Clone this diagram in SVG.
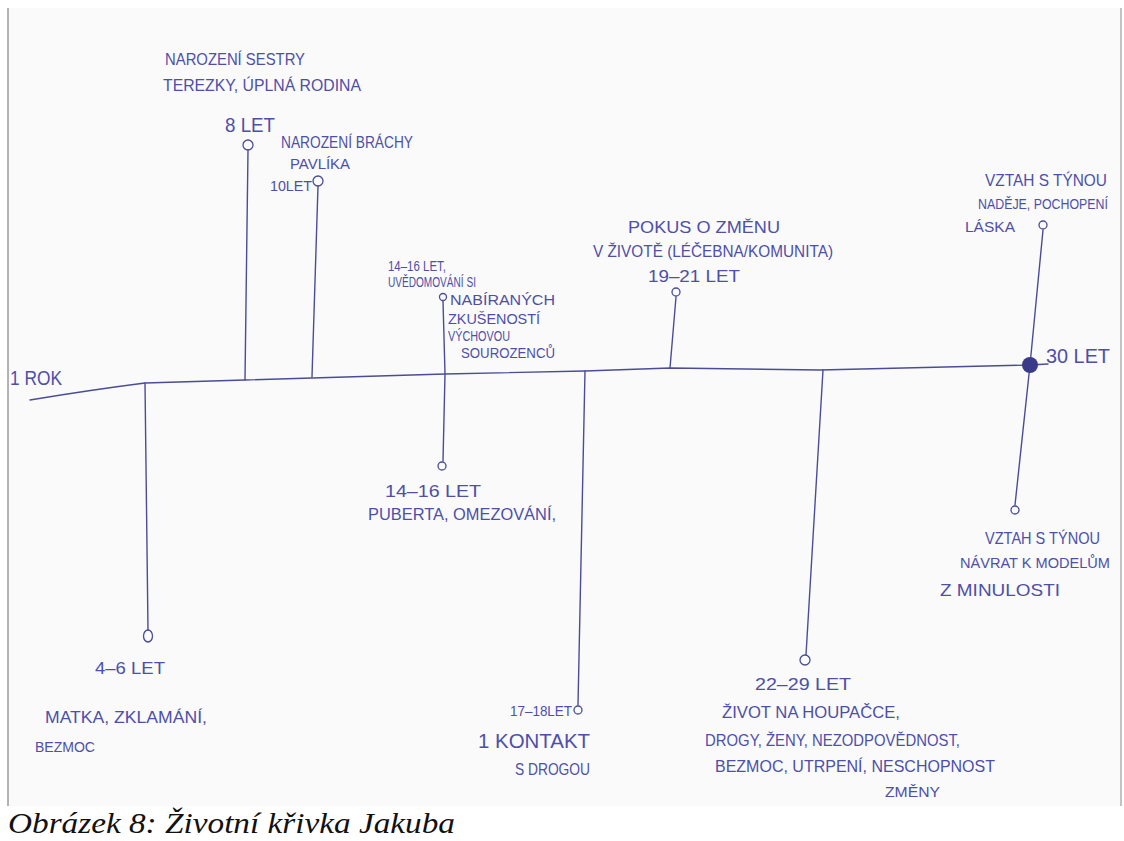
<svg xmlns="http://www.w3.org/2000/svg" width="1124" height="841" viewBox="0 0 1124 841">
<style>
.ink{font-family:"Liberation Sans","DejaVu Sans",sans-serif;font-size:17px;fill:#4d4fa8}
.sm{font-size:14px}
.big{font-size:20px}
.ln{stroke:#4a4c98;stroke-width:1.4;fill:none;stroke-linecap:round}
.dot{stroke:#4a4c98;stroke-width:1.3;fill:none}
.cap{font-family:"Liberation Serif","Times New Roman",serif;font-style:italic;font-size:30px;fill:#111}
</style>
<rect x="0" y="0" width="1124" height="841" fill="#ffffff"/>
<rect x="8" y="8" width="1113" height="798" fill="#fafafa"/>
<line x1="8" y1="8" x2="8" y2="806" stroke="#9a9a9a" stroke-width="1.5"/>
<line x1="1121" y1="8" x2="1121" y2="806" stroke="#b0b0b0" stroke-width="1.5"/>

<g id="connectors">
<path class="ln" d="M30 400 Q90 390 145 383 L245 380 L445 374 L585 371 L670 368 L820 370 L1030 365 L1048 364"/>
<path class="ln" d="M245 380 L248 150"/>
<path class="ln" d="M312 377 L318 186"/>
<path class="ln" d="M145 383 L148 630"/>
<path class="ln" d="M443 301 L445 374 L443 461"/>
<path class="ln" d="M585 371 L578 705"/>
<path class="ln" d="M670 368 L676 297"/>
<path class="ln" d="M823 370 L806 655"/>
<path class="ln" d="M1043 230 L1030 365 L1015 505"/>
</g>

<g id="n-1rok"><text class="ink big" x="10" y="385" textLength="52" lengthAdjust="spacingAndGlyphs">1 ROK</text></g>

<g id="n-8let">
<circle class="dot" cx="248" cy="145" r="5"/>
<text class="ink" x="165" y="65" textLength="140" lengthAdjust="spacingAndGlyphs">NAROZENÍ SESTRY</text>
<text class="ink" x="163" y="91" textLength="198" lengthAdjust="spacingAndGlyphs">TEREZKY, ÚPLNÁ RODINA</text>
<text class="ink big" x="225" y="132" textLength="50" lengthAdjust="spacingAndGlyphs">8 LET</text>
</g>

<g id="n-10let">
<circle class="dot" cx="318" cy="181" r="5"/>
<text class="ink" x="281" y="148" textLength="132" lengthAdjust="spacingAndGlyphs">NAROZENÍ BRÁCHY</text>
<text class="ink sm" x="290" y="169" textLength="60" lengthAdjust="spacingAndGlyphs">PAVLÍKA</text>
<text class="ink sm" x="270" y="191" textLength="42" lengthAdjust="spacingAndGlyphs">10LET</text>
</g>

<g id="n-14-16-up">
<circle class="dot" cx="443" cy="297" r="3.5"/>
<text class="ink sm" x="388" y="271" textLength="58" lengthAdjust="spacingAndGlyphs">14–16 LET,</text>
<text class="ink sm" x="388" y="287" textLength="88" lengthAdjust="spacingAndGlyphs">UVĚDOMOVÁNÍ SI</text>
<text class="ink sm" x="450" y="305" textLength="105" lengthAdjust="spacingAndGlyphs">NABÍRANÝCH</text>
<text class="ink sm" x="448" y="324" textLength="92" lengthAdjust="spacingAndGlyphs">ZKUŠENOSTÍ</text>
<text class="ink sm" x="448" y="341" textLength="62" lengthAdjust="spacingAndGlyphs">VÝCHOVOU</text>
<text class="ink sm" x="461" y="358" textLength="94" lengthAdjust="spacingAndGlyphs">SOUROZENCŮ</text>
</g>

<g id="n-19-21">
<circle class="dot" cx="676" cy="292" r="4"/>
<text class="ink" x="628" y="233" textLength="152" lengthAdjust="spacingAndGlyphs">POKUS O ZMĚNU</text>
<text class="ink" x="593" y="257" textLength="240" lengthAdjust="spacingAndGlyphs">V ŽIVOTĚ (LÉČEBNA/KOMUNITA)</text>
<text class="ink" x="648" y="282" textLength="92" lengthAdjust="spacingAndGlyphs">19–21 LET</text>
</g>

<g id="n-30-up">
<circle class="dot" cx="1043" cy="225" r="4"/>
<text class="ink" x="985" y="186" textLength="122" lengthAdjust="spacingAndGlyphs">VZTAH S TÝNOU</text>
<text class="ink sm" x="978" y="209" textLength="130" lengthAdjust="spacingAndGlyphs">NADĚJE, POCHOPENÍ</text>
<text class="ink sm" x="965" y="232" textLength="50" lengthAdjust="spacingAndGlyphs">LÁSKA</text>
</g>

<g id="n-30let">
<circle cx="1030" cy="365" r="8" fill="#3a3a8a"/>
<text class="ink big" x="1046" y="363" textLength="64" lengthAdjust="spacingAndGlyphs">30 LET</text>
</g>

<g id="n-4-6">
<ellipse class="dot" cx="148" cy="636" rx="4.5" ry="6"/>
<text class="ink" x="95" y="674" textLength="70" lengthAdjust="spacingAndGlyphs">4–6 LET</text>
<text class="ink" x="45" y="723" textLength="162" lengthAdjust="spacingAndGlyphs">MATKA, ZKLAMÁNÍ,</text>
<text class="ink sm" x="35" y="752" textLength="60" lengthAdjust="spacingAndGlyphs">BEZMOC</text>
</g>

<g id="n-14-16-down">
<circle class="dot" cx="442" cy="466" r="4"/>
<text class="ink" x="385" y="497" textLength="96" lengthAdjust="spacingAndGlyphs">14–16 LET</text>
<text class="ink" x="368" y="520" textLength="188" lengthAdjust="spacingAndGlyphs">PUBERTA, OMEZOVÁNÍ,</text>
</g>

<g id="n-17-18">
<circle class="dot" cx="578" cy="710" r="4"/>
<text class="ink sm" x="510" y="716" textLength="62" lengthAdjust="spacingAndGlyphs">17–18LET</text>
<text class="ink big" x="478" y="748" textLength="112" lengthAdjust="spacingAndGlyphs">1   KONTAKT</text>
<text class="ink" x="515" y="775" textLength="75" lengthAdjust="spacingAndGlyphs">S DROGOU</text>
</g>

<g id="n-22-29">
<circle class="dot" cx="805" cy="660" r="5"/>
<text class="ink" x="755" y="690" textLength="96" lengthAdjust="spacingAndGlyphs">22–29 LET</text>
<text class="ink" x="722" y="718" textLength="178" lengthAdjust="spacingAndGlyphs">ŽIVOT NA HOUPAČCE,</text>
<text class="ink" x="705" y="746" textLength="255" lengthAdjust="spacingAndGlyphs">DROGY, ŽENY, NEZODPOVĚDNOST,</text>
<text class="ink" x="715" y="772" textLength="280" lengthAdjust="spacingAndGlyphs">BEZMOC, UTRPENÍ, NESCHOPNOST</text>
<text class="ink sm" x="885" y="797" textLength="55" lengthAdjust="spacingAndGlyphs">ZMĚNY</text>
</g>

<g id="n-30-down">
<circle class="dot" cx="1015" cy="510" r="4"/>
<text class="ink" x="985" y="544" textLength="115" lengthAdjust="spacingAndGlyphs">VZTAH S TÝNOU</text>
<text class="ink sm" x="960" y="568" textLength="150" lengthAdjust="spacingAndGlyphs">NÁVRAT K MODELŮM</text>
<text class="ink" x="940" y="596" textLength="120" lengthAdjust="spacingAndGlyphs">Z MINULOSTI</text>
</g>

<g id="caption"><text class="cap" x="8" y="833" textLength="447" lengthAdjust="spacingAndGlyphs">Obrázek 8: Životní křivka Jakuba</text></g>
</svg>
